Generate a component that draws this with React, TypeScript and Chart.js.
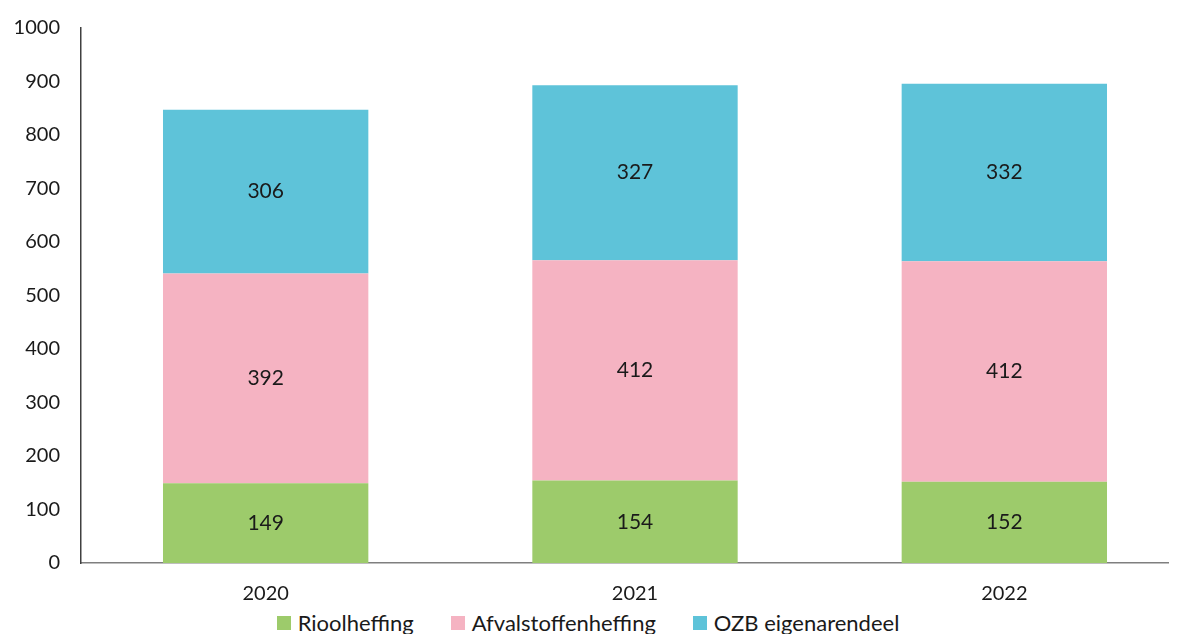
import React, { useEffect, useRef } from "react";
import { Chart, registerables } from "chart.js";

Chart.register(...registerables);

const categories = ["2020", "2021", "2022"];
const rioolheffing = [149, 154, 152];
const afvalstoffenheffing = [392, 412, 412];
const ozbEigenarendeel = [306, 327, 332];
const yTicks = [0, 100, 200, 300, 400, 500, 600, 700, 800, 900, 1000];

const seriesNames = ["Rioolheffing", "Afvalstoffenheffing", "OZB eigenarendeel"];
const seriesColors = ["#9DCB6B", "#F5B3C2", "#5EC3D9"];

const FONT = "Lato, 'Open Sans', sans-serif";

const labelPlugin = {
  id: "segmentLabels",
  afterDatasetsDraw(chart: any) {
    const ctx = chart.ctx;
    ctx.save();
    ctx.font = `21px ${FONT}`;
    ctx.fillStyle = "#1a1a1a";
    ctx.textAlign = "center";
    ctx.textBaseline = "middle";
    chart.data.datasets.forEach((ds: any, i: number) => {
      const meta = chart.getDatasetMeta(i);
      meta.data.forEach((bar: any, j: number) => {
        const y = (bar.y + bar.base) / 2;
        ctx.fillText(String(ds.data[j]), bar.x, y);
      });
    });
    ctx.restore();
  },
};

export default function App() {
  const ref = useRef<HTMLCanvasElement | null>(null);
  useEffect(() => {
    if (!ref.current) return;
    const values = [rioolheffing, afvalstoffenheffing, ozbEigenarendeel];
    const chart = new Chart(ref.current, {
      type: "bar",
      data: {
        labels: categories,
        datasets: seriesNames.map((name, i) => ({
          label: name,
          data: values[i],
          backgroundColor: seriesColors[i],
        })),
      },
      options: {
        animation: false,
        responsive: true,
        maintainAspectRatio: false,
        layout: { padding: { top: 0, right: 0, left: 0, bottom: 0 } },
        datasets: { bar: { categoryPercentage: 1, barPercentage: 0.556 } },
        plugins: {
          legend: { display: false },
          tooltip: { enabled: false },
        },
        scales: {
          x: {
            stacked: true,
            grid: { display: false },
            border: { color: "#7f7f7f", width: 1.5 },
            ticks: { color: "#1a1a1a", font: { family: FONT, size: 20 }, padding: 11 },
            afterFit(scale: any) {
              scale.height = 45;
            },
          },
          y: {
            stacked: true,
            min: 0,
            max: 1000,
            afterBuildTicks(scale: any) {
              scale.ticks = yTicks.map((v) => ({ value: v }));
            },
            afterFit(scale: any) {
              scale.width = 73;
            },
            grid: { display: false },
            border: { color: "#404040", width: 1.5 },
            ticks: {
              color: "#1a1a1a",
              font: { family: FONT, size: 20 },
              padding: 13,
              callback: (v: any) => String(v),
            },
          },
        },
      },
      plugins: [labelPlugin],
    });
    return () => chart.destroy();
  }, []);
  return (
    <div style={{ width: 1169, height: 626, overflow: "hidden", position: "relative" }}>
      <div style={{ position: "absolute", top: -5, left: 0, width: 1181, height: 605 }}>
        <canvas ref={ref} />
      </div>
      <div
        style={{
          position: "absolute",
          left: 0,
          width: 1160,
          top: 602,
          height: 26,
          display: "flex",
          justifyContent: "center",
          alignItems: "center",
          gap: 37,
          fontFamily: FONT,
          fontSize: 22,
          color: "#1a1a1a",
          lineHeight: "26px",
        }}
      >
        {seriesNames.map((name, i) => (
          <div key={name} style={{ display: "flex", alignItems: "center", gap: 7 }}>
            <span style={{ width: 14, height: 14, background: seriesColors[i], display: "inline-block" }} />
            <span>{name}</span>
          </div>
        ))}
      </div>
    </div>
  );
}
